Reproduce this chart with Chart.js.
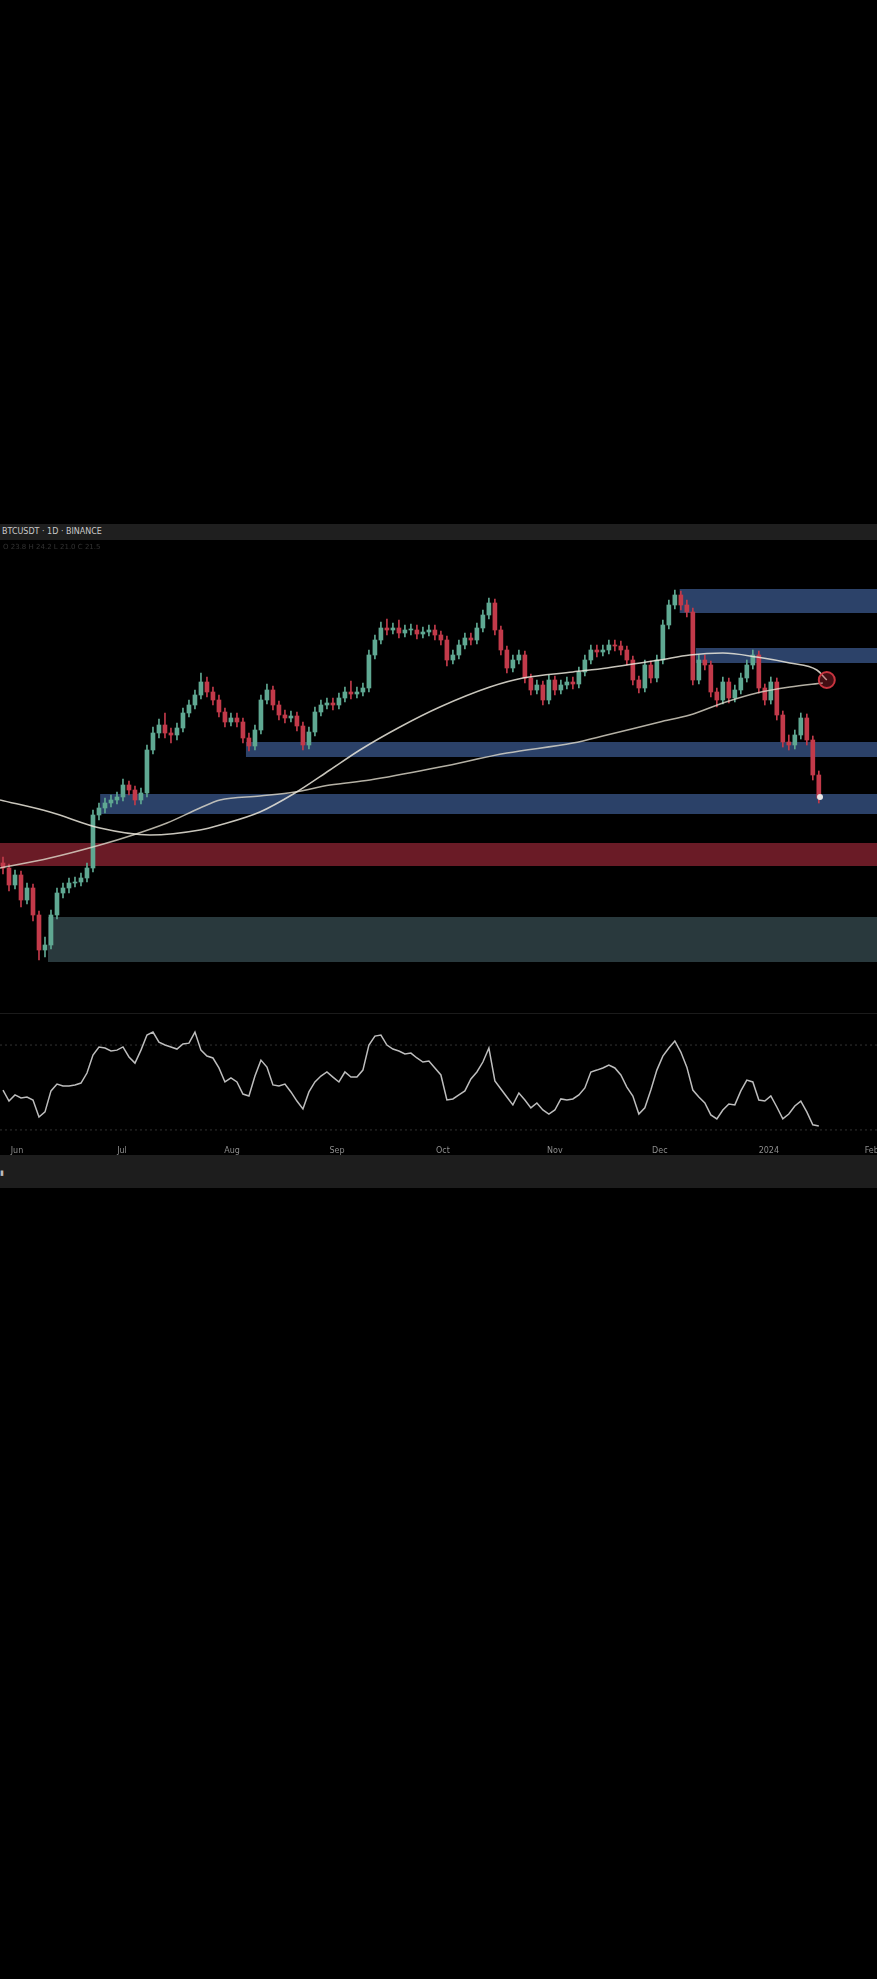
<!DOCTYPE html>
<html>
<head>
<meta charset="utf-8">
<script src="https://cdn.jsdelivr.net/npm/chart.js@4.4.1/dist/chart.umd.min.js"></script>
<style>
  html, body { margin:0; padding:0; background:#000; }
  body { width:877px; height:1979px; position:relative; overflow:hidden; font-family:"DejaVu Sans", sans-serif; }
  #topbar { position:absolute; left:0; top:524px; width:877px; height:16px; background:#1f1f1f; }
  #topbar span { position:absolute; left:2px; top:3px; font-size:8px; color:#c9c9c9; white-space:nowrap; }
  #legend { position:absolute; left:3px; top:543px; font-size:7px; color:#333; white-space:nowrap; z-index:2; }
  #main { position:absolute; left:0; top:540px; }
  #rsi { position:absolute; left:0; top:1013px; }
  #sep { position:absolute; left:0; top:1013px; width:877px; height:1px; background:#1b1b1b; z-index:2; }
  #bottombar { position:absolute; left:0; top:1155px; width:877px; height:33px; background:#1d1d1d; }
  #bottombar span { position:absolute; left:0; top:14px; font-size:7px; color:#bbb; }
</style>
</head>
<body>
<div id="topbar"><span>BTCUSDT · 1D · BINANCE</span></div>
<div id="legend">O 23.8 H 24.2 L 21.0 C 21.5</div>
<canvas id="main" width="877" height="473"></canvas>
<div id="sep"></div>
<canvas id="rsi" width="877" height="142"></canvas>
<div id="bottombar"><span>▮</span></div>
<script>
// Daily candles, price in thousands
const opens = [15.0,14.5,12.8,13.8,11.3,12.5,9.8,6.3,6.8,9.8,
  12.0,12.5,13.0,13.1,13.5,14.5,19.8,20.5,21.0,21.3,
  21.6,22.8,22.3,21.3,22.0,26.3,28.0,28.8,28.0,27.8,
  28.5,30.0,30.8,31.8,33.1,32.1,31.3,30.1,29.1,29.5,
  29.1,27.5,26.7,28.3,31.3,32.3,30.8,29.8,29.5,29.7,
  28.7,26.8,28.1,30.1,30.8,31.0,30.8,31.5,32.1,31.9,
  32.1,32.5,35.8,37.3,38.5,38.3,38.5,38.0,38.3,38.3,
  37.9,38.1,38.3,37.8,37.3,35.3,35.8,36.8,37.5,37.3,
  38.5,39.8,41.0,38.3,36.3,34.5,35.3,35.8,33.5,32.3,
  32.8,31.3,33.3,32.3,32.8,33.1,32.9,34.1,35.3,36.3,
  36.1,36.3,36.8,36.7,36.3,35.3,33.3,32.5,34.8,33.5,
  35.3,38.8,40.8,41.8,40.8,40.1,33.3,35.3,34.8,32.1,
  31.3,33.1,31.5,32.3,33.5,34.8,35.8,32.5,31.3,33.1,
  29.8,27.1,26.8,27.8,29.5,27.3,23.8];
const highs = [15.6,14.9,14.3,14.2,13.0,12.9,10.2,7.6,10.3,12.5,
  13.0,13.5,13.6,14.0,15.0,20.3,21.0,21.5,21.8,22.1,
  23.4,23.2,22.7,22.5,26.8,28.6,29.4,30.0,28.5,29.0,
  30.5,31.3,32.3,34.0,33.6,32.6,31.8,30.5,30.0,30.0,
  29.5,28.0,28.8,31.8,32.9,32.7,31.2,30.3,30.2,30.1,
  29.1,28.6,30.6,31.3,31.5,31.5,32.0,32.6,33.2,32.6,
  33.0,36.3,37.8,39.1,39.4,39.0,39.3,38.8,38.9,38.8,
  38.6,38.8,38.8,38.2,37.7,36.3,37.3,38.0,38.0,39.0,
  40.3,41.5,41.4,38.7,36.7,35.8,36.3,36.2,33.9,33.3,
  33.2,33.8,33.7,33.3,33.6,33.6,34.6,35.8,36.8,36.8,
  36.8,37.3,37.3,37.2,36.7,35.7,33.7,35.3,35.2,35.8,
  39.3,41.3,42.3,42.2,41.3,40.5,35.8,35.8,35.2,32.5,
  33.6,33.5,32.8,34.0,35.3,36.3,36.2,32.9,33.6,33.5,
  30.2,27.8,28.3,30.0,29.9,27.7,24.2];
const lows = [13.9,12.2,12.4,10.6,10.9,9.2,5.3,5.6,6.4,9.4,
  11.5,12.0,12.6,12.7,13.1,14.1,19.3,20.0,20.6,20.9,
  21.2,21.8,20.8,20.9,21.6,25.9,27.5,27.5,27.0,27.3,
  28.1,29.6,30.4,31.4,31.6,30.8,29.6,28.6,28.7,28.6,
  27.0,26.2,26.3,27.9,30.9,30.3,29.3,29.0,29.1,28.2,
  26.3,26.4,27.7,29.7,30.4,30.3,30.4,31.1,31.4,31.5,
  31.7,32.1,35.4,36.9,37.8,37.9,37.5,37.6,37.8,37.4,
  37.5,37.7,37.3,36.8,34.7,34.9,35.4,36.4,36.8,36.9,
  38.1,39.4,37.8,35.8,34.0,34.1,34.9,33.0,31.8,31.9,
  30.8,30.9,31.8,31.9,32.4,32.4,32.5,33.7,34.9,35.6,
  35.7,35.9,36.2,35.8,34.8,32.8,32.0,32.1,33.0,33.1,
  34.9,38.4,40.4,40.3,39.6,32.8,32.9,34.3,31.6,30.6,
  30.9,31.0,31.1,31.9,33.1,34.4,32.0,30.8,30.9,29.3,
  26.6,26.3,26.4,27.4,26.8,23.3,21.0];
const closes = [14.5,12.8,13.8,11.3,12.5,9.8,6.3,6.8,9.8,12.0,
  12.5,13.0,13.1,13.5,14.5,19.8,20.5,21.0,21.3,21.6,
  22.8,22.3,21.3,22.0,26.3,28.0,28.8,28.0,27.8,28.5,
  30.0,30.8,31.8,33.1,32.1,31.3,30.1,29.1,29.5,29.1,
  27.5,26.7,28.3,31.3,32.3,30.8,29.8,29.5,29.7,28.7,
  26.8,28.1,30.1,30.8,31.0,30.8,31.5,32.1,31.9,32.1,
  32.5,35.8,37.3,38.5,38.3,38.5,38.0,38.3,38.3,37.9,
  38.1,38.3,37.8,37.3,35.3,35.8,36.8,37.5,37.3,38.5,
  39.8,41.0,38.3,36.3,34.5,35.3,35.8,33.5,32.3,32.8,
  31.3,33.3,32.3,32.8,33.1,32.9,34.1,35.3,36.3,36.1,
  36.3,36.8,36.7,36.3,35.3,33.3,32.5,34.8,33.5,35.3,
  38.8,40.8,41.8,40.8,40.1,33.3,35.3,34.8,32.1,31.3,
  33.1,31.5,32.3,33.5,34.8,35.8,32.5,31.3,33.1,29.8,
  27.1,26.8,27.8,29.5,27.3,23.8,21.5];

// RSI per candle
const rsi = [48.8,43.6,46.5,45.1,45.5,44.1,36.1,38.5,48.4,51.6,
  50.7,50.7,51.2,52.1,56.8,65.3,69.1,68.6,67.2,67.6,
  69.1,64.4,61.5,67.6,74.7,76.1,71.4,70.0,69.1,68.1,
  70.5,70.9,76.1,67.6,64.8,63.9,59.2,52.6,54.5,52.6,
  46.9,46.0,55.4,62.9,59.6,51.2,50.7,51.6,47.9,43.6,
  39.9,47.9,52.6,55.4,57.3,54.9,52.6,57.3,54.9,54.9,
  58.2,70.0,74.2,74.7,70.0,68.1,67.2,65.8,66.2,63.9,
  62.0,62.5,59.2,55.9,44.1,44.6,46.5,48.4,54.0,57.3,
  62.0,68.6,53.1,49.3,45.5,41.8,47.4,44.1,40.4,42.7,
  39.4,37.5,39.4,44.6,44.1,44.6,46.5,49.8,57.3,58.2,
  59.2,60.6,59.2,55.9,50.2,46.0,37.5,40.4,48.8,58.2,
  64.8,68.6,71.9,66.7,59.6,48.8,45.5,42.7,37.1,35.2,
  39.4,42.2,41.8,48.4,53.5,52.6,44.1,43.6,46.0,40.8,
  35.2,37.5,41.3,43.6,38.5,32.4,31.9];
const rsiLevels = [70, 30];

// moving averages (candle index, price)
const maFastX = [-0.5,7.83,16.17,24.5,32.83,36.17,42.83,48.67,54.5,59.5,66.17,72.83,81.17,86.67,95,100.67,109.5,114.5,120,125.67,131.17,135.67,137.33];
const maFastY = [21.3,20.1,18.5,17.8,18.3,18.8,20.1,22.0,24.3,26.3,28.6,30.6,32.6,33.5,34.1,34.5,35.3,35.8,36.0,35.6,35.0,34.3,33.3];
const maSlowX = [-0.5,7.83,16.17,21.67,27.33,32.83,36.17,42.83,48.67,54.5,61.17,72.83,84,95,100.67,109.5,114.5,120,125.67,131.17,136.67];
const maSlowY = [14.5,15.5,16.8,17.8,19.0,20.5,21.3,21.7,22.1,22.8,23.3,24.6,26.0,27.0,27.8,29.1,29.8,31.0,32.0,32.6,33.0];

// horizontal zones: start index, low, high, kind
const zoneStart = [112.8, 115.5, 40.5, 16.2, -0.5, 7.5];
const zoneLow   = [40.0, 35.0, 25.6, 19.9, 14.7, 5.1];
const zoneHigh  = [42.4, 36.5, 27.1, 21.9, 17.0, 9.6];
const zoneKind  = ['resistance', 'resistance', 'support', 'support', 'flip', 'demand'];

// annotation marks
const crossX = [137.33], crossY = [33.3];
const lastX = [136.2], lastY = [21.6];

// time axis
const tickPos = [2.33, 19.83, 38.17, 55.67, 73.33, 92, 109.5, 127.67, 144.83];
const tickLabels = ['Jun', 'Jul', 'Aug', 'Sep', 'Oct', 'Nov', 'Dec', '2024', 'Feb'];

const X_MIN = -0.5, X_MAX = 145.7;
const UP = '#5fa892', DOWN = '#c23a4a';
const zoneColor = { resistance:'#2c4269', support:'#2b4168', flip:'#6a1b26', demand:'#29393d' };

const candleColor = closes.map((c, i) => c >= opens[i] ? UP : DOWN);

const zonePlugin = {
  id: 'zones',
  beforeDatasetsDraw(chart){
    const { ctx, chartArea, scales:{ x, y } } = chart;
    ctx.save();
    zoneStart.forEach((s, i) => {
      const left = Math.max(x.getPixelForValue(s), chartArea.left);
      const top = y.getPixelForValue(zoneHigh[i]);
      const bottom = y.getPixelForValue(zoneLow[i]);
      ctx.fillStyle = zoneColor[zoneKind[i]];
      ctx.fillRect(left, top, chartArea.right - left, bottom - top);
    });
    ctx.restore();
  }
};

const toPts = (xs, ys) => xs.map((x, i) => ({ x, y: ys[i] }));

new Chart(document.getElementById('main'), {
  type: 'bar',
  data: {
    datasets: [
      { type:'line', data: toPts(crossX, crossY), showLine:false, pointRadius:8,
        pointBackgroundColor:'rgba(190,40,55,0.35)', pointBorderColor:'#c8343f', pointBorderWidth:2, order:0 },
      { type:'line', data: toPts(lastX, lastY), showLine:false, pointRadius:3,
        pointBackgroundColor:'#e6e6e6', pointBorderWidth:0, order:0 },
      { type:'line', data: toPts(maFastX, maFastY), borderColor:'rgba(235,232,220,0.85)', borderWidth:1.5,
        pointRadius:0, cubicInterpolationMode:'monotone', order:1 },
      { type:'line', data: toPts(maSlowX, maSlowY), borderColor:'rgba(225,220,205,0.8)', borderWidth:1.5,
        pointRadius:0, cubicInterpolationMode:'monotone', order:1 },
      { data: lows.map((l, i) => ({ x:i, y:[l, highs[i]] })), backgroundColor: candleColor,
        barThickness:1, grouped:false, order:3 },
      { data: opens.map((o, i) => ({ x:i, y:[o, closes[i]] })), backgroundColor: candleColor,
        barThickness:4, minBarLength:1, grouped:false, order:2 }
    ]
  },
  options: {
    responsive:false, animation:false, events:[],
    layout:{ padding:0, autoPadding:false },
    plugins:{ legend:{ display:false }, tooltip:{ enabled:false } },
    scales:{
      x:{ type:'linear', min:X_MIN, max:X_MAX, offset:false, display:false },
      y:{ min:0, max:47.3, display:false }
    }
  },
  plugins:[zonePlugin]
});

new Chart(document.getElementById('rsi'), {
  type: 'line',
  data: {
    datasets: [
      { data: rsi.map((v, i) => ({ x:i, y:v })), borderColor:'#bdbdbd', borderWidth:1.5, pointRadius:0, tension:0 },
      ...rsiLevels.map(l => ({ data:[{ x:X_MIN, y:l }, { x:X_MAX, y:l }], borderColor:'#333',
        borderWidth:1, borderDash:[2,3], pointRadius:0 }))
    ]
  },
  options: {
    responsive:false, animation:false, events:[],
    layout:{ padding:0, autoPadding:false },
    plugins:{ legend:{ display:false }, tooltip:{ enabled:false } },
    scales:{
      x:{
        type:'linear', min:X_MIN, max:X_MAX, offset:false,
        border:{ display:false },
        grid:{ display:false, drawTicks:false },
        afterBuildTicks: axis => { axis.ticks = tickPos.map(v => ({ value:v })); },
        afterFit: axis => { axis.height = 10; axis.paddingLeft = 0; axis.paddingRight = 0; },
        ticks:{ autoSkip:false, maxRotation:0, padding:1, color:'#8c8c8c',
          font:{ size:8, family:'DejaVu Sans' },
          callback:(v, i) => tickLabels[i] }
      },
      y:{ min:22.9, max:85.1, display:false }
    }
  }
});
</script>
</body>
</html>
